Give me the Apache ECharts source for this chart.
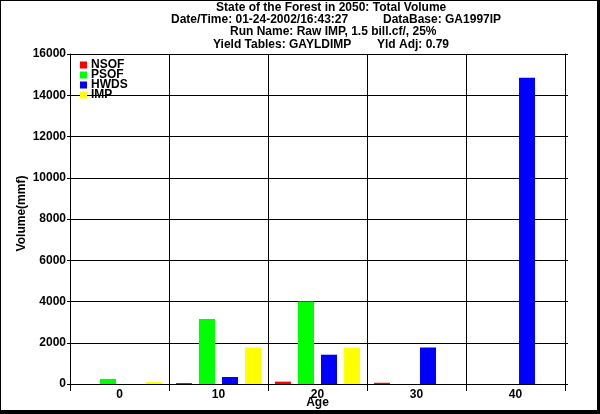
<!DOCTYPE html>
<html>
<head>
<meta charset="utf-8">
<script src="https://cdn.jsdelivr.net/npm/echarts@6/dist/echarts.min.js"></script>
<style>html,body{margin:0;padding:0;background:#fff;}#c{width:600px;height:414px;}</style>
</head>
<body>
<div id="c"></div>
<script>
const categories = ['0', '10', '20', '30', '40'];
const seriesNames = ['NSOF', 'PSOF', 'HWDS', 'IMP'];
const nsof = [0, 50, 115, 60, 0];
const psof = [245, 3150, 4000, 0, 0];
const hwds = [0, 340, 1420, 1770, 14850];
const imp = [100, 1770, 1770, 0, 0];
const colors = ['#ff0000', '#00ff00', '#0000ff', '#ffff00'];
const titleLines = [
  ['State of the Forest in 2050: Total Volume', 216, 7.5],
  ['Date/Time: 01-24-2002/16:43:27', 171, 19.7],
  ['DataBase: GA1997IP', 383, 19.7],
  ['Run Name: Raw IMP, 1.5 bill.cf/, 25%', 230, 32],
  ['Yield Tables: GAYLDIMP', 213, 44.3],
  ['Yld Adj: 0.79', 377, 44.3]
];
const FONT = '"Liberation Sans", Arial, sans-serif';

const chart = echarts.init(document.getElementById('c'), null, {renderer: 'canvas'});
const values = [nsof, psof, hwds, imp];

const graphics = titleLines.map(t => ({
  type: 'text', x: t[1], y: t[2], silent: true,
  style: {text: t[0], fill: '#000', font: 'bold 12px ' + FONT, textAlign: 'left', textVerticalAlign: 'middle'}
}));
graphics.push(
  {type: 'rect', shape: {x: 0, y: 0, width: 600, height: 1}, style: {fill: '#000'}, silent: true},
  {type: 'rect', shape: {x: 0, y: 0, width: 1, height: 414}, style: {fill: '#000'}, silent: true},
  {type: 'rect', shape: {x: 597, y: 0, width: 3, height: 414}, style: {fill: '#000'}, silent: true},
  {type: 'rect', shape: {x: 0, y: 410, width: 600, height: 4}, style: {fill: '#000'}, silent: true}
);

chart.setOption({
  animation: false,
  backgroundColor: '#fff',
  textStyle: {fontFamily: FONT},
  grid: {left: 70, right: 35, top: 54, bottom: 30, containLabel: false, outerBoundsMode: 'none'},
  legend: {
    orient: 'vertical', left: 80, top: 59, padding: 0, itemGap: -2,
    itemWidth: 7, itemHeight: 7, icon: 'rect',
    data: seriesNames,
    textStyle: {color: '#000', fontWeight: 'bold', fontSize: 12, lineHeight: 10, fontFamily: FONT, padding: [0, 0, 0, -1]}
  },
  xAxis: {
    type: 'category', data: categories, boundaryGap: true,
    name: 'Age', nameLocation: 'middle', nameGap: 13, nameMoveOverlap: false,
    nameTextStyle: {color: '#000', fontWeight: 'bold', fontSize: 12},
    axisLine: {show: true, lineStyle: {color: '#000', width: 1}},
    axisTick: {show: true, length: 7, alignWithLabel: false, lineStyle: {color: '#000', width: 1}},
    axisLabel: {color: '#000', fontWeight: 'bold', fontSize: 12, margin: 5},
    splitLine: {show: true, lineStyle: {color: '#000', width: 1}}
  },
  yAxis: [{
    type: 'value', min: 0, max: 16000, interval: 2000,
    name: 'Volume(mmf)', nameLocation: 'middle', nameGap: 42, nameRotate: 90, nameMoveOverlap: false,
    nameTextStyle: {color: '#000', fontWeight: 'bold', fontSize: 12, padding: [0, 0, 0, 11]},
    axisLine: {show: true, lineStyle: {color: '#000', width: 1}},
    axisTick: {show: true, length: 3, lineStyle: {color: '#000', width: 1}},
    axisLabel: {color: '#000', fontWeight: 'bold', fontSize: 12, margin: 4, formatter: v => String(v)},
    splitLine: {show: true, lineStyle: {color: '#000', width: 1}}
  }, {
    type: 'value', position: 'right', min: 0, max: 16000, interval: 2000,
    axisLine: {show: true, lineStyle: {color: '#000', width: 1}},
    axisTick: {show: true, length: 3, lineStyle: {color: '#000', width: 1}},
    axisLabel: {show: false},
    splitLine: {show: false}
  }],
  series: seriesNames.map((n, i) => ({
    name: n, type: 'bar', data: values[i], barWidth: 16, barGap: '44%',
    itemStyle: {color: colors[i]}
  })),
  graphic: graphics
});
</script>
</body>
</html>
